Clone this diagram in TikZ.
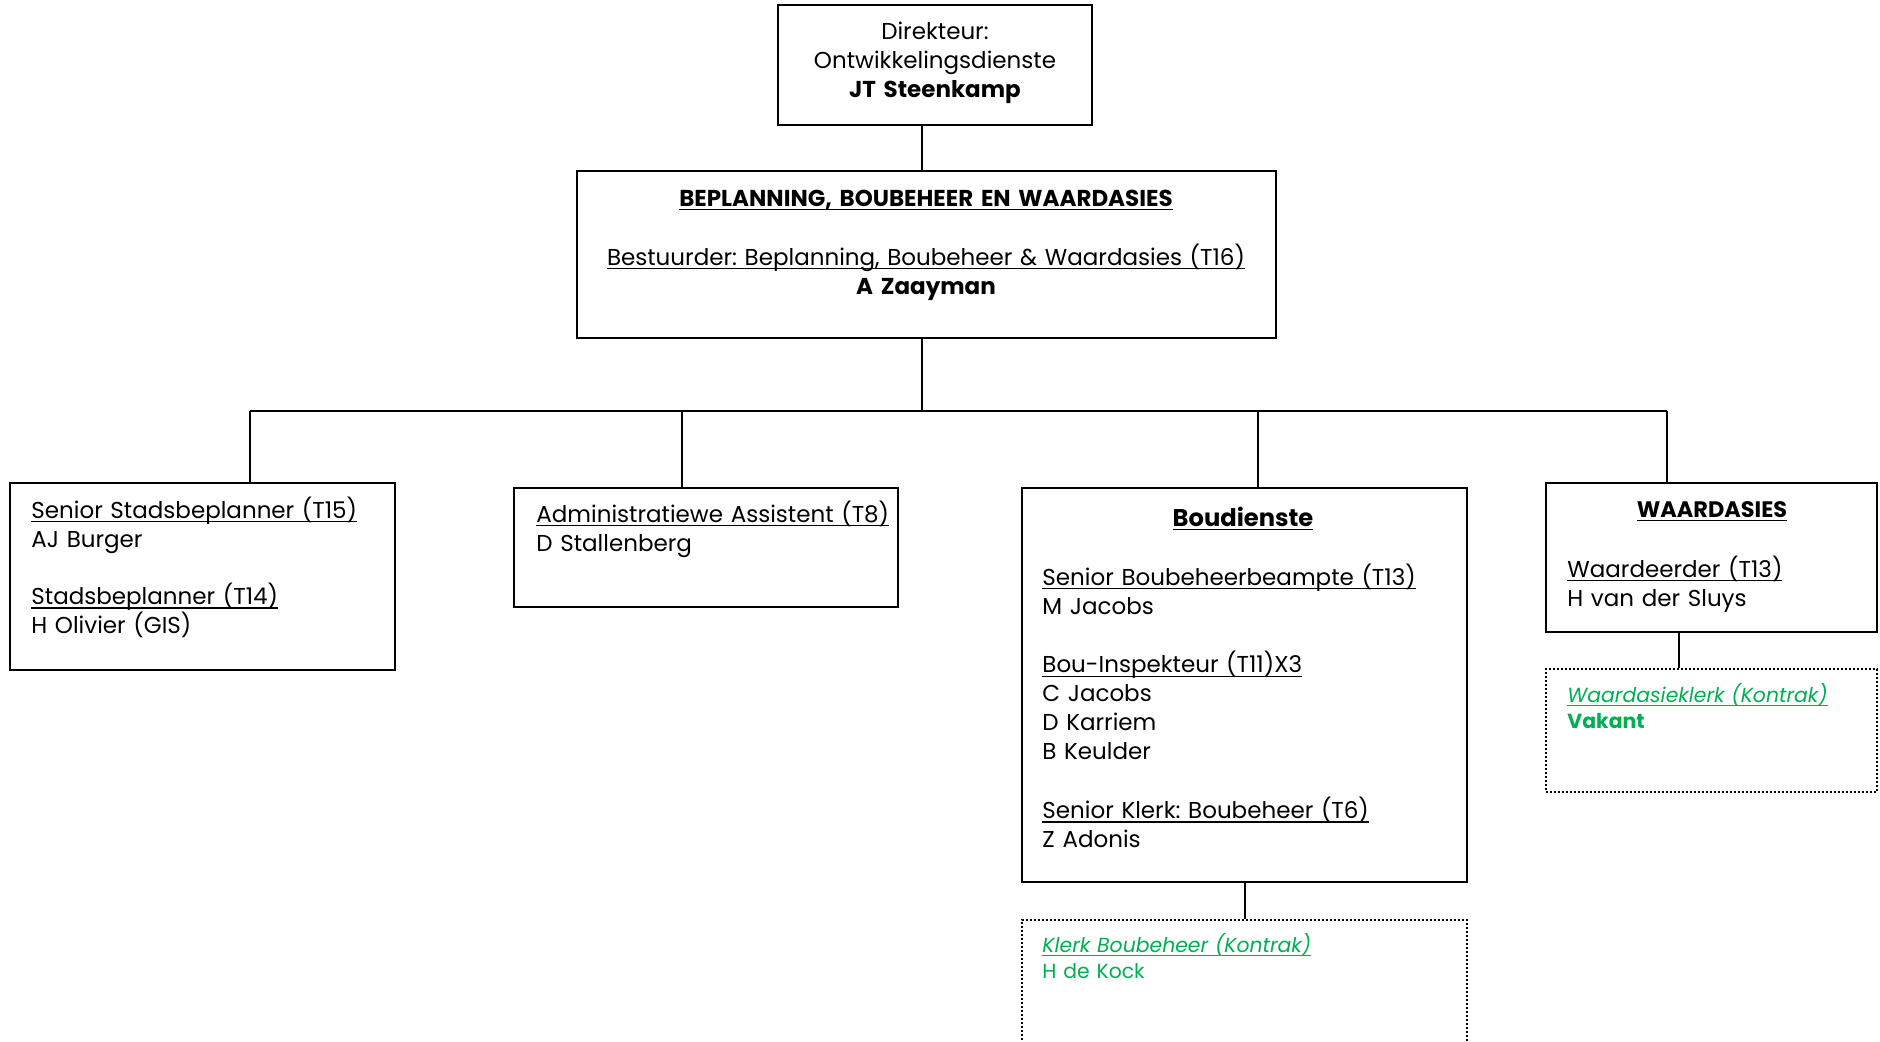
\documentclass[tikz,border=0pt]{standalone}
\usepackage{fontspec}
\setmainfont{Poppins}

\definecolor{kontrak}{RGB}{0,176,80}
\newsavebox\undlbox
\newcommand{\undl}[1]{\leavevmode\sbox\undlbox{#1}\rlap{\rule[-2.2pt]{\wd\undlbox}{0.8pt}}\usebox\undlbox}
\newcommand{\mainsize}{\frenchspacing\fontsize{11.5pt}{14.5pt}\selectfont}
\newcommand{\kontraksize}{\frenchspacing\fontsize{10.2pt}{13pt}\selectfont}

\tikzstyle{line}=[-, line width=1pt]
\tikzstyle{unit}=[rectangle, draw, line width=1pt, inner sep=0pt]
\tikzstyle{vacancy}=[rectangle, draw, densely dotted, line width=1pt, inner sep=0pt]
\tikzstyle{names}=[anchor=base west, inner sep=0pt, align=left, text width=220pt, font=\mainsize]
\tikzstyle{heading}=[anchor=base, inner sep=0pt, align=center, font=\mainsize]

\begin{document}
\begin{tikzpicture}[x=0.5pt, y=-0.5pt]
	\clip (0,0) rectangle (1880,1041);
	\useasboundingbox (0,0) rectangle (1880,1041);

	\node (dir) at (935,65) [unit, minimum width=157pt, minimum height=60pt] {};
	\node (dirtext) at (935,39) [heading, text width=150pt] {Direkteur:\\Ontwikkelingsdienste\\\textbf{JT Steenkamp}};

	\node (mgr) at (926.5,254.5) [unit, minimum width=349.5pt, minimum height=83.5pt] {};
	\node (mgrtext) at (926,206) [heading, text width=340pt] {\undl{\textbf{BEPLANNING, BOUBEHEER EN WAARDASIES}}\\[15pt]\undl{Bestuurder: Beplanning, Boubeheer \& Waardasies (T16)}\\\textbf{A Zaayman}};

	\node (stad) at (202.5,576.5) [unit, minimum width=192.5pt, minimum height=93.5pt] {};
	\node (stadtext) at (31,518) [names] {\undl{Senior Stadsbeplanner (T15)}\\AJ Burger\\[14.2pt]\undl{Stadsbeplanner (T14)}\\H Olivier (GIS)};

	\node (admin) at (706,547.5) [unit, minimum width=192pt, minimum height=59.5pt] {};
	\node (admintext) at (536,522) [names] {\undl{Administratiewe Assistent (T8)}\\D Stallenberg};

	\node (bou) at (1244.5,685) [unit, minimum width=222.5pt, minimum height=197pt] {};
	\node (boutitle) at (1243,526) [heading, font={\fontsize{12.1pt}{14.5pt}\selectfont}] {\undl{\textbf{Boudienste}}};
	\node (boutext) at (1042,585) [names] {\undl{Senior Boubeheerbeampte (T13)}\\M Jacobs\\[14.9pt]\undl{Bou-Inspekteur (T11)X3}\\C Jacobs\\D Karriem\\B Keulder\\[14.9pt]\undl{Senior Klerk: Boubeheer (T6)}\\Z Adonis};

	\node (waard) at (1711.5,557.5) [unit, minimum width=165.5pt, minimum height=74.5pt] {};
	\node (waardtitle) at (1712,517) [heading, font={\fontsize{11.2pt}{14.5pt}\selectfont}] {\undl{\textbf{WAARDASIES}}};
	\node (waardtext) at (1567,577) [names] {\undl{Waardeerder (T13)}\\H van der Sluys};

	% kontrak posts
	\node (waardklerk) at (1711.5,730.5) [vacancy, minimum width=165.5pt, minimum height=61.5pt] {};
	\node (waardklerktext) at (1567,702) [names, text=kontrak, font=\kontraksize] {\undl{\textit{Waardasieklerk (Kontrak)}}\\\textbf{Vakant}};

	\node (bouklerk) at (1244.5,1000) [vacancy, minimum width=222.5pt, minimum height=80pt] {};
	\node (bouklerktext) at (1042,952) [names, text=kontrak, font=\kontraksize] {\undl{\textit{Klerk Boubeheer (Kontrak)}}\\H de Kock};

	% connectors
	\coordinate (trunk) at (922,411);
	\coordinate (busstad) at (250,411);
	\coordinate (busadmin) at (682,411);
	\coordinate (busbou) at (1258,411);
	\coordinate (buswaard) at (1667,411);
	\draw[line] (dir.south -| trunk) -- (mgr.north -| trunk);
	\draw[line] (mgr.south -| trunk) -- (trunk);
	\draw[line] (busstad) -- (buswaard);
	\draw[line] (busstad) -- (busstad |- stad.north);
	\draw[line] (busadmin) -- (busadmin |- admin.north);
	\draw[line] (busbou) -- (busbou |- bou.north);
	\draw[line] (buswaard) -- (buswaard |- waard.north);
	\draw[line] (bou.south) -- (bouklerk.north);
	\draw[line] ([xshift=-16.25pt]waard.south) -- ([xshift=-16.25pt]waardklerk.north);
\end{tikzpicture}
\end{document}
